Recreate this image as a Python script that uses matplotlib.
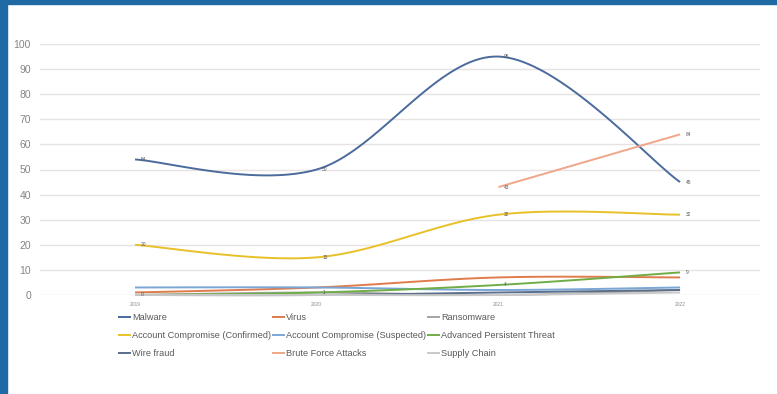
import numpy as np
import matplotlib
matplotlib.use("Agg")
import matplotlib.pyplot as plt
from matplotlib.patches import Rectangle

plt.rcParams["font.family"] = ["Liberation Sans", "DejaVu Sans"]

years = ["2019", "2020", "2021", "2022"]

malware = [54, 50, 95, 45]
virus = [1, 3, 7, 7]
ransomware = [0, 1, 0, 2]
acct_confirmed = [20, 15, 32, 32]
acct_suspected = [3, 3, 2, 3]
apt = [0, 1, 4, 9]
wire_fraud = [0, 0, 1, 2]
brute_force = [None, None, 43, 64]
supply_chain = [0, 0, 0, 1]

series = [
    ("Malware", malware, "#4a6b9c", True),
    ("Virus", virus, "#e07b4c", False),
    ("Ransomware", ransomware, "#a5a5a5", False),
    ("Account Compromise (Confirmed)", acct_confirmed, "#e8c12a", True),
    ("Account Compromise (Suspected)", acct_suspected, "#7aa6d6", False),
    ("Advanced Persistent Threat", apt, "#70ad47", True),
    ("Wire fraud", wire_fraud, "#5a6f8c", False),
    ("Brute Force Attacks", brute_force, "#f0a688", True),
    ("Supply Chain", supply_chain, "#c9c9c9", False),
]


def smooth(xs, ys, n=40):
    # Excel-style smoothed line (Catmull-Rom as cubic Bezier)
    pts = np.column_stack([xs, ys]).astype(float)
    if len(pts) < 3:
        return pts
    padded = np.vstack([pts[0], pts, pts[-1]])
    out = [pts[:1]]
    t = np.linspace(0, 1, n)[1:, None]
    for i in range(len(pts) - 1):
        p0, p1, p2, p3 = padded[i], padded[i + 1], padded[i + 2], padded[i + 3]
        c1 = p1 + (p2 - p0) / 6
        c2 = p2 - (p3 - p1) / 6
        seg = (1 - t) ** 3 * p1 + 3 * (1 - t) ** 2 * t * c1 + 3 * (1 - t) * t ** 2 * c2 + t ** 3 * p2
        out.append(seg)
    return np.vstack(out)


fig = plt.figure(figsize=(7.77, 3.94), dpi=100)
ax = fig.add_axes([40 / 777, 1 - 295 / 394, 720 / 777, 251 / 394])

x = np.arange(len(years))
handles = {}
for name, vals, color, labelled in series:
    xs = [xi for xi, v in zip(x, vals) if v is not None]
    ys = [v for v in vals if v is not None]
    curve = smooth(xs, ys)
    ln, = ax.plot(curve[:, 0], curve[:, 1], color=color, lw=1.4, clip_on=False,
                  solid_capstyle="butt")
    handles[name] = ln
    if labelled:
        for xi, yi in zip(xs, ys):
            ax.annotate(str(yi), (xi, yi), xytext=(4, 0), textcoords="offset points",
                        fontsize=3.5, color="#595959", va="center")

ax.set_xlim(-0.523, 3.44)
ax.set_ylim(0, 100)
ax.set_yticks(range(0, 101, 10))
ax.set_xticks(x)
ax.set_xticklabels(years, fontsize=3.5, color="#8c8c8c")
ax.tick_params(axis="y", length=0, pad=6.5, labelsize=7.5, labelcolor="#858585")
ax.tick_params(axis="x", length=0, pad=5)
ax.grid(axis="y", color="#e8e2e2", lw=1)
ax.set_axisbelow(True)
for s in ax.spines.values():
    s.set_visible(False)

order = ["Malware", "Account Compromise (Confirmed)", "Wire fraud",
         "Virus", "Account Compromise (Suspected)", "Brute Force Attacks",
         "Ransomware", "Advanced Persistent Threat", "Supply Chain"]
fig.legend([handles[n] for n in order], order, ncol=3, loc="upper left",
           bbox_to_anchor=(118 / 777, 1 - 313 / 394), frameon=False,
           fontsize=6.6, labelcolor="#595959", handlelength=1.4,
           handletextpad=0.15, columnspacing=0.1, labelspacing=1.0,
           borderpad=0, borderaxespad=0)

# blue frame on the top and left edges
fig.patches.append(Rectangle((0, 1 - 4 / 394), 1, 4 / 394, transform=fig.transFigure,
                             color="#1f6aa5", zorder=10))
fig.patches.append(Rectangle((0, 0), 7 / 777, 1, transform=fig.transFigure,
                             color="#1f6aa5", zorder=10))

fig.savefig("out.png", dpi=100)
